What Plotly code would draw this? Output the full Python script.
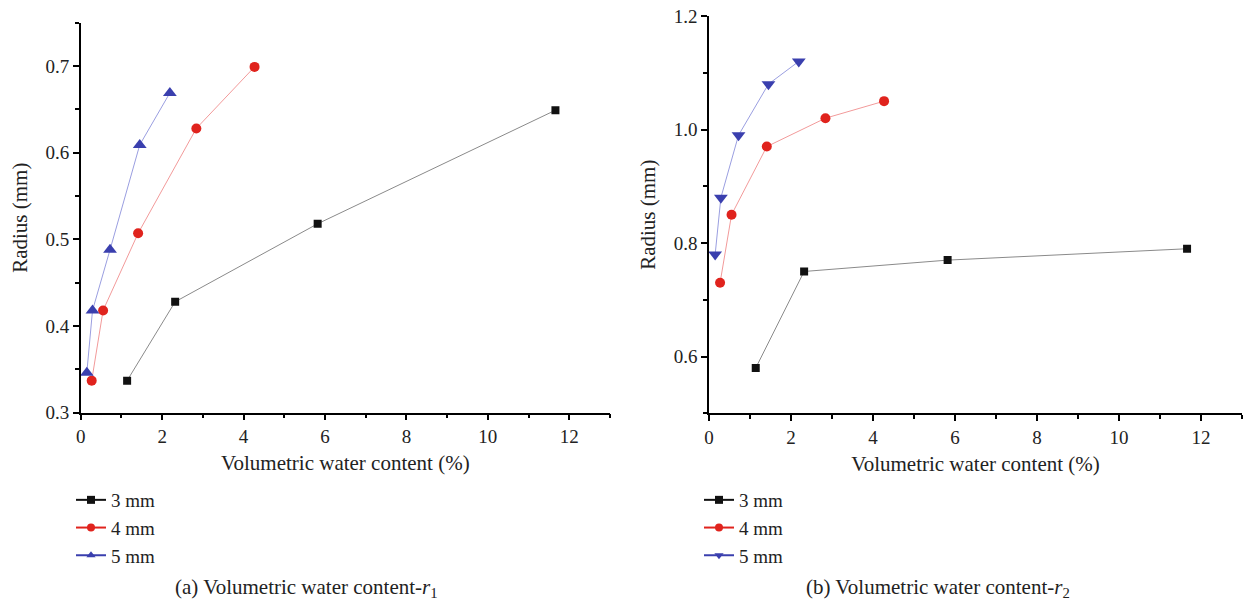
import plotly.graph_objects as go

# ---- data ----
x_3mm = [1.14, 2.32, 5.82, 11.66]
x_4mm = [0.27, 0.55, 1.41, 2.84, 4.27]
x_5mm = [0.15, 0.29, 0.72, 1.45, 2.19]

r1_3mm = [0.337, 0.428, 0.518, 0.649]
r1_4mm = [0.337, 0.418, 0.507, 0.628, 0.699]
r1_5mm = [0.346, 0.418, 0.488, 0.609, 0.669]

r2_3mm = [0.58, 0.75, 0.77, 0.79]
r2_4mm = [0.73, 0.85, 0.97, 1.02, 1.05]
r2_5mm = [0.78, 0.88, 0.99, 1.08, 1.12]

series_names = ["3 mm", "4 mm", "5 mm"]
marker_colors = ["#111111", "#e0231d", "#3a3fae"]
line_colors = ["#8a8a8a", "#f29a9a", "#9a9ee0"]

FONT = "Liberation Serif"
TXT = "#222222"

fig = go.Figure()

left = [(x_3mm, r1_3mm, "square"), (x_4mm, r1_4mm, "circle"), (x_5mm, r1_5mm, "triangle-up")]
right = [(x_3mm, r2_3mm, "square"), (x_4mm, r2_4mm, "circle"), (x_5mm, r2_5mm, "triangle-down")]
sizes = {"square": 8, "circle": 10, "triangle-up": 12, "triangle-down": 12}

for i, (xs, ys, sym) in enumerate(left):
    fig.add_trace(go.Scatter(x=xs, y=ys, mode="lines+markers", xaxis="x", yaxis="y",
                             line=dict(color=line_colors[i], width=1),
                             marker=dict(symbol=sym, size=sizes[sym], color=marker_colors[i]),
                             showlegend=False))
    fig.add_trace(go.Scatter(x=[None], y=[None], mode="lines+markers", xaxis="x", yaxis="y",
                             name=series_names[i], legend="legend",
                             line=dict(color=marker_colors[i], width=2),
                             marker=dict(symbol=sym, size=8, color=marker_colors[i])))

for i, (xs, ys, sym) in enumerate(right):
    fig.add_trace(go.Scatter(x=xs, y=ys, mode="lines+markers", xaxis="x2", yaxis="y2",
                             line=dict(color=line_colors[i], width=1),
                             marker=dict(symbol=sym, size=sizes[sym], color=marker_colors[i]),
                             showlegend=False))
    fig.add_trace(go.Scatter(x=[None], y=[None], mode="lines+markers", xaxis="x2", yaxis="y2",
                             name=series_names[i], legend="legend2",
                             line=dict(color=marker_colors[i], width=2),
                             marker=dict(symbol=sym, size=8, color=marker_colors[i])))

W, H = 1247, 608

axis_common = dict(showline=True, linecolor="black", linewidth=1.5, ticks="outside",
                   ticklen=6, tickwidth=1.5, tickcolor="black", showgrid=False, zeroline=False,
                   tickfont=dict(family=FONT, size=19, color=TXT), mirror=False, automargin=False)

xcommon = dict(axis_common, range=[0, 13], dtick=2, tick0=0,
               minor=dict(dtick=1, ticks="outside", ticklen=4, tickwidth=1.5, tickcolor="black"),
               title=dict(text="Volumetric water content (%)", font=dict(family=FONT, size=21, color=TXT),
                          standoff=9))

ytitle = dict(text="Radius (mm)", font=dict(family=FONT, size=21, color=TXT), standoff=12)

fig.update_layout(
    width=W, height=H, margin=dict(l=0, r=0, t=0, b=0, autoexpand=False),
    paper_bgcolor="white", plot_bgcolor="white",
    font=dict(family=FONT, color=TXT),
    xaxis=dict(xcommon, domain=[80.7 / W, 610 / W], anchor="y"),
    yaxis=dict(axis_common, domain=[1 - 412.7 / H, 1 - 22.7 / H], range=[0.3, 0.75], dtick=0.1, tick0=0.3,
               tickformat=".1f", anchor="x",
               minor=dict(dtick=0.05, ticks="outside", ticklen=4, tickwidth=1.5, tickcolor="black"),
               title=ytitle),
    xaxis2=dict(xcommon, domain=[709 / W, 1242 / W], anchor="y2"),
    yaxis2=dict(axis_common, domain=[1 - 413.4 / H, 1 - 16 / H], range=[0.5, 1.2], dtick=0.2, tick0=0.6,
                tickformat=".1f", anchor="x2",
                minor=dict(dtick=0.1, ticks="outside", ticklen=4, tickwidth=1.5, tickcolor="black"),
                title=ytitle),
    legend=dict(x=71 / W, y=1 - 481 / H, xanchor="left", yanchor="top", bgcolor="rgba(0,0,0,0)",
                font=dict(family=FONT, size=19, color=TXT), tracegroupgap=0, itemwidth=30),
    legend2=dict(x=699 / W, y=1 - 481 / H, xanchor="left", yanchor="top", bgcolor="rgba(0,0,0,0)",
                 font=dict(family=FONT, size=19, color=TXT), tracegroupgap=0, itemwidth=30),
    annotations=[
        dict(text="(a) Volumetric water content-<i>r</i><sub>1</sub>", x=306 / W, y=1 - 588 / H,
             xref="paper", yref="paper", xanchor="center", yanchor="middle", showarrow=False,
             font=dict(family=FONT, size=21, color=TXT)),
        dict(text="(b) Volumetric water content-<i>r</i><sub>2</sub>", x=938 / W, y=1 - 588 / H,
             xref="paper", yref="paper", xanchor="center", yanchor="middle", showarrow=False,
             font=dict(family=FONT, size=21, color=TXT)),
    ],
)

fig.write_html("out.html")
